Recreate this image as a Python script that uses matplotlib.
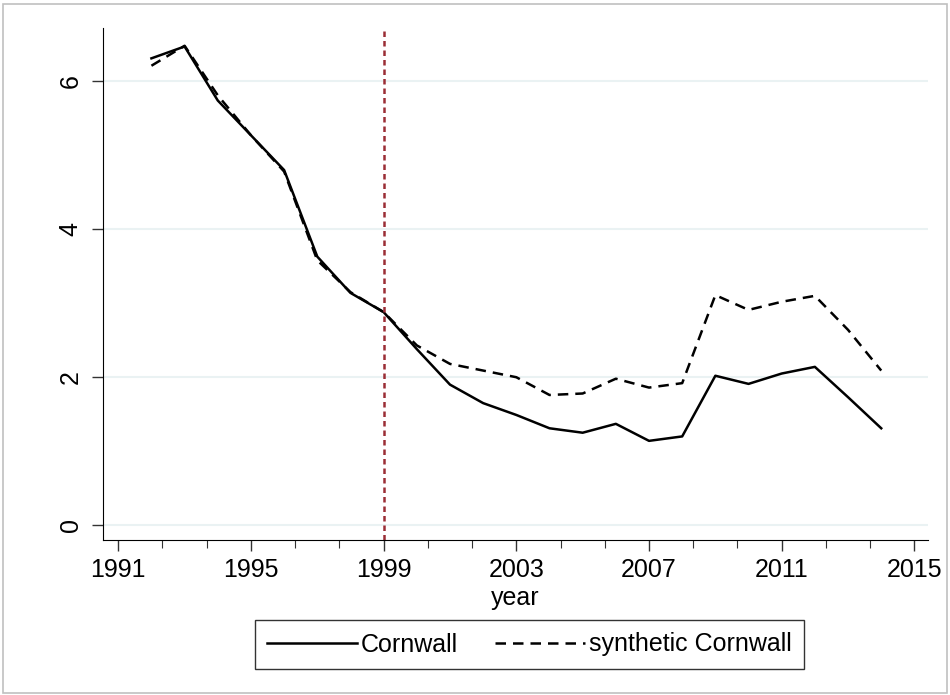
import matplotlib
matplotlib.use("Agg")
import matplotlib.pyplot as plt
from matplotlib.patches import Rectangle
import numpy as np

plt.rcParams['font.family'] = ['Liberation Sans', 'DejaVu Sans']

# datos
years = list(range(1992, 2015))
cornwall = [6.31, 6.47, 5.74, 5.27, 4.80, 3.63, 3.14, 2.88, 2.38, 1.90, 1.65, 1.49,
            1.31, 1.25, 1.37, 1.14, 1.20, 2.02, 1.91, 2.05, 2.14, 1.73, 1.31]
synthetic = [6.21, 6.48, 5.81, 5.27, 4.78, 3.58, 3.15, 2.88, 2.43, 2.18, 2.09, 2.00,
             1.76, 1.78, 1.98, 1.86, 1.92, 3.11, 2.91, 3.02, 3.10, 2.64, 2.09]
treat_year = 1999
xticks = [1991, 1995, 1999, 2003, 2007, 2011, 2015]
yticks = [0, 2, 4, 6]

fs = 18

fig = plt.figure(figsize=(9.5, 6.95), dpi=100)
ax = fig.add_axes([103/950, 1-540/695, 825/950, 512/695])

# gridlines
for t in yticks:
    ax.axhline(t, color='#eaf2f3', lw=1.5, zorder=0)

ax.plot(years, cornwall, color='black', lw=1.8, label='Cornwall')
ax.plot(years, synthetic, color='black', lw=1.8, ls=(0, (4.2, 2.8)), label='synthetic Cornwall')
ax.axvline(treat_year, color='#9b2d35', lw=1.8, ls=(0, (2.2, 1.6)))

ax.set_xlim(1990.54, 2015.41)
ax.set_ylim(-0.2, 6.72)
ax.set_xticks(xticks)
ax.set_xticks(np.arange(1991, 2015.1, 4/3), minor=True)
ax.set_yticks(yticks)
ax.tick_params(axis='both', which='major', labelsize=fs, length=8, width=1, color='#333333')
ax.tick_params(axis='x', which='minor', length=6, width=0.8, color='#333333')
ax.tick_params(axis='y', pad=6.5)
ax.tick_params(axis='x', pad=5)
for lab in ax.get_yticklabels():
    lab.set_rotation(90)
    lab.set_va('center')
ax.spines['top'].set_visible(False)
ax.spines['right'].set_visible(False)
ax.set_xlabel('year', fontsize=fs, labelpad=3)

leg = fig.legend(loc='center', bbox_to_anchor=(529.5/950, 1-644.5/695), ncol=2,
                 fontsize=fs, handlelength=3.6, handletextpad=0.15, columnspacing=1.5,
                 fancybox=False, edgecolor='#333333', framealpha=1, borderpad=0.5)
leg.get_frame().set_linewidth(1.0)

fig.patches.append(Rectangle((3/950, 2/695), 944/950, 689/695, transform=fig.transFigure,
                             fill=False, edgecolor='#c0c0c0', lw=1.2))

fig.savefig('out.png', dpi=100)
